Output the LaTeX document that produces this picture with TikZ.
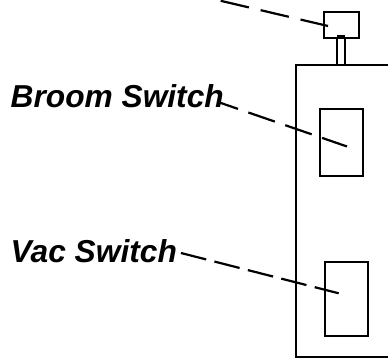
\documentclass[tikz,border=0pt]{standalone}
\usepackage{fontspec}
\setmainfont{Liberation Sans}
\tikzset{
  outline/.style={draw=black,line width=2pt,line join=miter},
  leader/.style={draw=black,line width=2.2pt},
  lbl/.style={font=\fontsize{31.7}{31.7}\selectfont\bfseries\itshape,anchor=base west,inner sep=0pt,text=black},
}
\begin{document}
\begin{tikzpicture}[x=1pt,y=-1pt]
\useasboundingbox (0,0) rectangle (388,358);
\fill[white] (0,0) rectangle (388,358);
% body, open at the right edge
\coordinate (bodyTR) at (388,65.5);
\coordinate (bodyTL) at (295.5,65.5);
\coordinate (bodyBL) at (295.5,356.5);
\coordinate (bodyBR) at (388,356.5);
\draw[outline] (bodyTR) -- (bodyTL) -- (bodyBL) -- (bodyBR);
% knob and stem
\node[outline,rectangle,inner sep=0pt,minimum width=8pt,minimum height=28pt] (stem) at (341,51) {};
\node[outline,rectangle,inner sep=0pt,minimum width=34.5pt,minimum height=25.5pt,fill=white] (knob) at (341.7,24.8) {};
\draw[line width=2.8pt] (337,36.8) -- (345,36.8);
% switches
\node[outline,rectangle,inner sep=0pt,minimum width=42.5pt,minimum height=67pt] (broomBox) at (341.7,142.5) {};
\node[outline,rectangle,inner sep=0pt,minimum width=43pt,minimum height=74pt] (vacBox) at (346.5,299) {};
% labels
\node[lbl] (broom) at (10.5,108) {Broom Switch};
\node[lbl] (vac) at (10.5,262) {Vac Switch};
% leaders
\coordinate (topStart) at (220.7,0.8);
\coordinate (topEnd) at (328,26);
\coordinate (broomStart) at (220,102.7);
\coordinate (broomEnd) at (347,146.5);
\coordinate (vacStart) at (181,253);
\coordinate (vacEnd) at (338.7,293.3);
\draw[leader,dash pattern=on 29pt off 12pt] (topStart) -- (topEnd);
\draw[leader,dash pattern=on 28pt off 11pt,dash phase=9pt] (broomStart) -- (broomEnd);
\draw[leader,dash pattern=on 26pt off 8.5pt] (vacStart) -- (vacEnd);
\end{tikzpicture}
\end{document}
